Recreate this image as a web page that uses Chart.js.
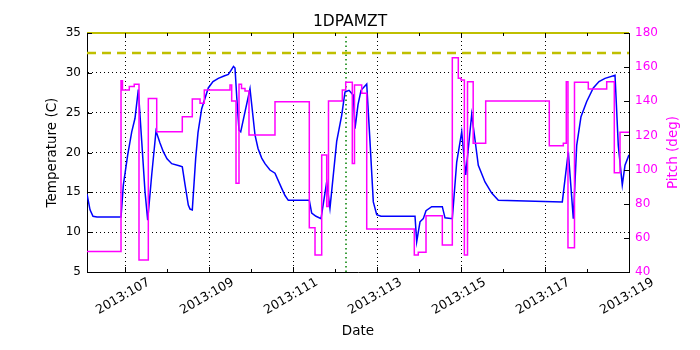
<!DOCTYPE html>
<html>
<head>
<meta charset="utf-8">
<script src="https://cdn.jsdelivr.net/npm/chart.js@4"></script>
<style>
html,body{margin:0;padding:0;background:#fff;}
#wrap{width:700px;height:350px;position:relative;}
</style>
</head>
<body>
<div id="wrap"><canvas id="c" width="700" height="350"></canvas></div>
<script>
// ---- data (day-of-year 2013) ----
const tempDays = [106.095,106.167,106.238,106.333,106.905,106.96,107.064,107.16,107.238,107.317,107.398,107.476,107.54,107.636,107.738,107.833,107.912,108.0,108.112,108.31,108.364,108.428,108.507,108.548,108.602,108.683,108.738,108.826,108.983,109.095,109.221,109.357,109.46,109.524,109.583,109.619,109.66,109.714,109.755,109.857,109.976,110.095,110.167,110.255,110.333,110.452,110.571,110.731,110.81,110.888,111.388,111.445,111.548,111.667,111.802,111.88,112.04,112.16,112.238,112.333,112.436,112.476,112.548,112.62,112.755,112.833,112.912,112.993,113.095,113.905,113.945,114.024,114.102,114.167,114.302,114.555,114.619,114.793,114.898,115.017,115.112,115.255,115.412,115.571,115.731,115.888,117.412,117.555,117.674,117.755,117.857,117.993,118.15,118.286,118.429,118.667,118.745,118.84,118.905,119.0];
const tempValues = [14.8,12.8,12.0,11.9,11.9,15.9,19.7,22.6,24.3,27.9,21.4,15.1,11.5,17.2,22.7,21.2,20.1,19.2,18.6,18.3,18.2,16.0,13.4,12.9,12.8,19.3,22.5,25.5,28.1,28.9,29.3,29.6,29.8,30.3,30.8,30.6,27.0,22.8,22.6,25.1,28.0,22.2,20.5,19.3,18.6,17.8,17.4,15.5,14.6,14.0,14.0,12.4,12.0,11.7,16.3,13.0,21.4,24.7,27.6,27.8,27.2,23.0,26.0,27.8,28.6,21.4,13.8,12.2,12.0,12.0,8.8,11.3,11.7,12.7,13.2,13.2,11.8,11.7,18.8,22.6,17.2,24.8,18.4,16.3,14.9,14.0,13.8,20.1,11.7,20.9,24.5,26.4,28.1,28.9,29.3,29.7,20.9,15.9,18.4,19.7];
const pitchDays = [106.095,106.905,106.94,107.102,107.22,107.333,107.555,107.755,108.364,108.602,108.786,108.888,109.5,109.54,109.643,109.714,109.774,109.857,109.952,110.571,111.388,111.524,111.683,111.802,111.845,112.174,112.255,112.412,112.464,112.636,112.755,113.888,113.983,114.167,114.555,114.793,114.936,115.0,115.08,115.155,115.29,115.588,117.102,117.436,117.507,117.547,117.702,118.031,118.469,118.65,118.786,119.0];
const pitchValues = [52,152,146.6,148.6,150,47,141.7,122.2,131,141.3,138.8,146.6,149.5,140.2,92,150,147.5,146,120.2,139.8,65.9,50,108.5,78.3,140.2,146.6,151.1,103.5,149.5,144.7,65.2,50,51.5,73,55.8,165.5,153.5,152.5,50,151.5,115.4,140.2,114,115.4,151.5,54.2,151.1,147.2,151.5,98.2,121.8,121.8];
const dateRange = [106.095, 119.0];
const dateTicks = [107,109,111,113,115,117,119];
const minorDateTicks = [107,108,109,110,111,112,113,114,115,116,117,118];
const tempTicks = [5,10,15,20,25,30,35];
const pitchTicks = [40,60,80,100,120,140,160,180];
const planningLimit = [32.5];
const topLimit = [35];
const markerDates = [112.262];

const pts = (xs, ys) => xs.map((x, i) => ({x: x, y: ys[i]}));
const FONT = "'DejaVu Sans', sans-serif";

const tickPlugin = {
  id: 'ticksIn',
  beforeDatasetsDraw(chart) {
    const {ctx, chartArea: a} = chart;
    ctx.save();
    ctx.strokeStyle = '#000';
    ctx.lineWidth = 1;
    ctx.beginPath();
    ctx.moveTo(a.left, a.top + 0.5);
    ctx.lineTo(a.right, a.top + 0.5);
    ctx.stroke();
    ctx.restore();
  },
  afterDraw(chart) {
    const {ctx, chartArea: a, scales} = chart;
    ctx.save();
    ctx.strokeStyle = '#000';
    ctx.lineWidth = 1;
    ctx.setLineDash([]);
    ctx.beginPath();
    minorDateTicks.forEach(d => {
      const x = Math.round(scales.x.getPixelForValue(d)) + 0.5;
      const len = (d % 2 === 1) ? 5 : 3;
      ctx.moveTo(x, a.bottom); ctx.lineTo(x, a.bottom - len);
      ctx.moveTo(x, a.top); ctx.lineTo(x, a.top + len);
    });
    tempTicks.forEach(v => {
      const y = Math.round(scales.y.getPixelForValue(v)) + 0.5;
      ctx.moveTo(a.left, y); ctx.lineTo(a.left + 5, y);
    });
    pitchTicks.forEach(v => {
      const y = Math.round(scales.y1.getPixelForValue(v)) + 0.5;
      ctx.moveTo(a.right, y); ctx.lineTo(a.right - 5, y);
    });
    ctx.stroke();
    // right axis title, reading bottom-to-top
    ctx.fillStyle = '#ff00ff';
    ctx.font = "13.5px " + FONT;
    ctx.textAlign = 'center';
    ctx.textBaseline = 'middle';
    ctx.translate(673, (a.top + a.bottom) / 2);
    ctx.rotate(-Math.PI / 2);
    ctx.fillText('Pitch (deg)', 0, 0);
    ctx.restore();
  }
};

new Chart(document.getElementById('c'), {
  type: 'line',
  data: {
    datasets: [
      {
        label: 'Pitch', data: pts(pitchDays, pitchValues), yAxisID: 'y1',
        borderColor: '#ff00ff', borderWidth: 1.5, stepped: true, pointRadius: 0, fill: false
      },
      {
        label: '1DPAMZT', data: pts(tempDays, tempValues), yAxisID: 'y',
        borderColor: '#0000ff', borderWidth: 1.5, pointRadius: 0, tension: 0, fill: false
      },
      {
        label: 'planning', data: pts(dateRange, [planningLimit[0], planningLimit[0]]), yAxisID: 'y',
        borderColor: '#bfbf00', borderWidth: 2.5, borderDash: [9, 6], pointRadius: 0
      },
      {
        label: 'limit', data: pts(dateRange, [topLimit[0], topLimit[0]]), yAxisID: 'y',
        borderColor: '#bfbf00', borderWidth: 2, pointRadius: 0, clip: false
      },
      {
        label: 'now', data: pts([markerDates[0], markerDates[0]], [tempTicks[0], tempTicks[tempTicks.length-1]]), yAxisID: 'y',
        borderColor: '#008000', borderWidth: 1.5, borderDash: [1.5, 3], pointRadius: 0
      }
    ]
  },
  options: {
    responsive: false,
    animation: false,
    events: [],
    layout: {padding: 0},
    plugins: {
      legend: {display: false},
      tooltip: {enabled: false},
      title: {
        display: true, text: '1DPAMZT', color: '#000',
        font: {family: FONT, size: 15.5, weight: 'normal'},
        padding: {top: 12.7, bottom: 1.7}
      }
    },
    scales: {
      x: {
        type: 'linear', min: dateRange[0], max: dateRange[1],
        afterBuildTicks: s => { s.ticks = dateTicks.map(v => ({value: v})); },
        afterFit: s => { s.height = 78; },
        grid: {display: true, drawTicks: false, color: '#000', lineWidth: 1},
        border: {display: true, color: '#000', width: 1, dash: [1, 3]},
        ticks: {
          color: '#000', font: {family: FONT, size: 12.5}, minRotation: 30, maxRotation: 30,
          padding: 3, labelOffset: 24, autoSkip: false,
          callback: v => '2013:' + v
        },
        title: {display: true, text: 'Date', color: '#000', font: {family: FONT, size: 13.5}, padding: {top: 0, bottom: 10.9}}
      },
      y: {
        type: 'linear', position: 'left', min: 5, max: 35,
        afterBuildTicks: s => { s.ticks = tempTicks.map(v => ({value: v})); },
        afterFit: s => { s.width = 87; },
        grid: {display: true, drawTicks: false, color: '#000', lineWidth: 1},
        border: {display: true, color: '#000', width: 1, dash: [1, 3]},
        ticks: {color: '#000', font: {family: FONT, size: 12}, padding: 6},
        title: {display: true, text: 'Temperature (C)', color: '#000', font: {family: FONT, size: 13.5}, padding: {top: 44, bottom: 0}}
      },
      y1: {
        type: 'linear', position: 'right', min: 40, max: 180,
        afterBuildTicks: s => { s.ticks = pitchTicks.map(v => ({value: v})); },
        afterFit: s => { s.width = 71; },
        grid: {display: false, drawTicks: false},
        border: {display: true, color: '#000', width: 1},
        ticks: {color: '#ff00ff', font: {family: FONT, size: 12}, padding: 6}
      }
    }
  },
  plugins: [tickPlugin]
});
</script>
</body>
</html>
